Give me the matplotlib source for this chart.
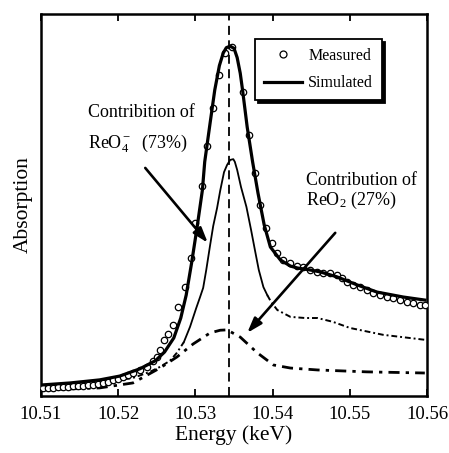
import matplotlib
matplotlib.use("Agg")
import matplotlib.pyplot as plt
from matplotlib.lines import Line2D

plt.rcParams["font.family"] = ["Liberation Serif", "DejaVu Serif"]
plt.rcParams["mathtext.fontset"] = "custom"
plt.rcParams["mathtext.rm"] = "Liberation Serif"
plt.rcParams["mathtext.it"] = "Liberation Serif:italic"

# Measured XANES points
meas_e = [10.5103, 10.5109, 10.5116, 10.5122, 10.5128, 10.5135, 10.5141, 10.5148,
          10.5154, 10.5161, 10.5167, 10.5174, 10.5180, 10.5187, 10.5193, 10.5200,
          10.5206, 10.5213, 10.5219, 10.5228, 10.5237, 10.5245, 10.5250, 10.5254,
          10.5259, 10.5264, 10.5271, 10.5278, 10.5286, 10.5294, 10.5300, 10.5309,
          10.5315, 10.5323, 10.5331, 10.5338, 10.5347, 10.5362, 10.5369, 10.5377,
          10.5384, 10.5392, 10.5399, 10.5406, 10.5413, 10.5423, 10.5432, 10.5439,
          10.5448, 10.5457, 10.5465, 10.5474, 10.5483, 10.5490, 10.5496, 10.5504,
          10.5513, 10.5522, 10.5530, 10.5539, 10.5548, 10.5556, 10.5565, 10.5574,
          10.5582, 10.5591, 10.5597]
meas_a = [0.021, 0.021, 0.021, 0.024, 0.024, 0.024, 0.026, 0.026,
          0.026, 0.029, 0.029, 0.031, 0.034, 0.037, 0.042, 0.045,
          0.050, 0.055, 0.060, 0.068, 0.076, 0.092, 0.102, 0.120,
          0.147, 0.162, 0.186, 0.233, 0.285, 0.361, 0.453, 0.550,
          0.654, 0.754, 0.840, 0.898, 0.914, 0.796, 0.683, 0.584,
          0.500, 0.440, 0.401, 0.374, 0.356, 0.348, 0.340, 0.338,
          0.330, 0.325, 0.322, 0.322, 0.317, 0.309, 0.298, 0.291,
          0.285, 0.277, 0.270, 0.264, 0.259, 0.257, 0.251, 0.246,
          0.243, 0.238, 0.238]

# Simulated spectrum (sum of the two components)
sim_e = [10.5103, 10.5138, 10.5176, 10.5202, 10.5228, 10.5248, 10.5260, 10.5272,
         10.5281, 10.5288, 10.5295, 10.5302, 10.5309, 10.5312, 10.5319, 10.5325,
         10.5331, 10.5336, 10.5340, 10.5345, 10.5350, 10.5354, 10.5358, 10.5361,
         10.5367, 10.5374, 10.5381, 10.5389, 10.5397, 10.5410, 10.5423, 10.5432,
         10.5448, 10.5461, 10.5483, 10.5509, 10.5535, 10.5569, 10.5597]
sim_a = [0.029, 0.034, 0.042, 0.052, 0.071, 0.092, 0.115, 0.152,
         0.204, 0.264, 0.348, 0.440, 0.539, 0.613, 0.715, 0.801,
         0.865, 0.898, 0.912, 0.916, 0.910, 0.886, 0.845, 0.801,
         0.704, 0.613, 0.531, 0.448, 0.390, 0.356, 0.340, 0.335,
         0.330, 0.325, 0.312, 0.291, 0.272, 0.259, 0.251]

# ReO4- component
reo4_e = [10.5103, 10.5138, 10.5176, 10.5219, 10.5241, 10.5254, 10.5267, 10.5276,
          10.5285, 10.5293, 10.5301, 10.5306, 10.5310, 10.5314, 10.5319, 10.5323,
          10.5328, 10.5332, 10.5337, 10.5341, 10.5345, 10.5349, 10.5351, 10.5354,
          10.5359, 10.5366, 10.5372, 10.5377, 10.5382, 10.5388, 10.5393, 10.5398,
          10.5406, 10.5423, 10.5442, 10.5458, 10.5478, 10.5500, 10.5543, 10.5597]
reo4_a = [0.021, 0.026, 0.034, 0.047, 0.063, 0.076, 0.092, 0.113,
          0.141, 0.181, 0.230, 0.259, 0.283, 0.330, 0.395, 0.445,
          0.492, 0.537, 0.586, 0.605, 0.618, 0.620, 0.613, 0.592,
          0.547, 0.495, 0.435, 0.382, 0.330, 0.285, 0.264, 0.246,
          0.225, 0.207, 0.204, 0.204, 0.194, 0.178, 0.160, 0.147]

# ReO2 component
reo2_e = [10.5103, 10.5176, 10.5219, 10.5254, 10.5276, 10.5297, 10.5319, 10.5332,
          10.5341, 10.5358, 10.5380, 10.5401, 10.5423, 10.5458, 10.5522, 10.5597]
reo2_a = [0.016, 0.021, 0.034, 0.073, 0.102, 0.136, 0.165, 0.172,
          0.173, 0.154, 0.113, 0.081, 0.073, 0.068, 0.063, 0.060]

edge_e = 10.5343
xticks = [10.51, 10.52, 10.53, 10.54, 10.55, 10.56]

fig = plt.figure(figsize=(4.49, 4.53), dpi=100)
ax = fig.add_axes([0.0913, 0.126, 0.860, 0.843])

ax.plot(sim_e, sim_a, "-", color="black", lw=2.3, zorder=4)
ax.plot(meas_e, meas_a, "o", mfc="white", mec="black", ms=4.6, mew=0.9, zorder=3)

# ReO4- curve: solid along the white line, dash-dot on the tails
solid_lo, solid_hi = 8, 31
ax.plot(reo4_e[solid_lo:solid_hi], reo4_a[solid_lo:solid_hi], "-", color="black", lw=1.3)
ax.plot(reo4_e[:solid_lo + 1], reo4_a[:solid_lo + 1], color="black", lw=1.4,
        dashes=(3, 1.5, 1, 1.5))
ax.plot(reo4_e[solid_hi - 1:], reo4_a[solid_hi - 1:], color="black", lw=1.4,
        dashes=(3, 1.5, 1, 1.5))

ax.plot(reo2_e, reo2_a, color="black", lw=2.0, dashes=(4, 2.2, 1.2, 2.2))

ax.axvline(edge_e, color="black", lw=1.3, dashes=(5, 3))

ax.set_xlim(10.51, 10.56)
ax.set_ylim(0, 1)
ax.set_xticks(xticks)
ax.set_xticklabels([f"{v:.2f}" for v in xticks], fontsize=13.5)
ax.set_yticks([])
ax.tick_params(axis="x", direction="in", top=True, length=5, width=1.3, pad=7)
for s in ax.spines.values():
    s.set_linewidth(1.8)

ax.set_xlabel("Energy (keV)", fontsize=15.5, labelpad=2)
ax.set_ylabel("Absorption", fontsize=15.5, labelpad=6)

# Component labels and arrows
ax.text(0.122, 0.743, "Contribition of", transform=ax.transAxes, fontsize=13,
        va="center", ha="left")
ax.text(0.122, 0.662, "ReO$_4^-$  (73%)", transform=ax.transAxes, fontsize=13,
        va="center", ha="left")
ax.annotate("", xy=(10.5316, 0.401), xytext=(10.5235, 0.597),
            arrowprops=dict(arrowstyle="-|>,head_length=0.9,head_width=0.3",
                            color="black", lw=1.9, shrinkA=0, shrinkB=0))

ax.text(0.687, 0.565, "Contribution of", transform=ax.transAxes, fontsize=13,
        va="center", ha="left")
ax.text(0.687, 0.513, "ReO$_2$ (27%)", transform=ax.transAxes, fontsize=13,
        va="center", ha="left")
ax.annotate("", xy=(10.5367, 0.165), xytext=(10.5481, 0.427),
            arrowprops=dict(arrowstyle="-|>,head_length=0.9,head_width=0.3",
                            color="black", lw=1.9, shrinkA=0, shrinkB=0))

handles = [
    Line2D([], [], ls="none", marker="o", mfc="white", mec="black", ms=5, mew=0.9),
    Line2D([], [], color="black", lw=2.3),
]
leg = ax.legend(handles, ["Measured", "Simulated"], loc="upper left",
                bbox_to_anchor=(0.533, 0.955), fontsize=11.5, frameon=True,
                fancybox=False, edgecolor="black", framealpha=1,
                shadow={"color": "black", "alpha": 1},
                handlelength=2.4, borderpad=0.55, labelspacing=0.7, handletextpad=0.4)
leg.get_frame().set_linewidth(1.3)

fig.savefig("out.png", dpi=100)
